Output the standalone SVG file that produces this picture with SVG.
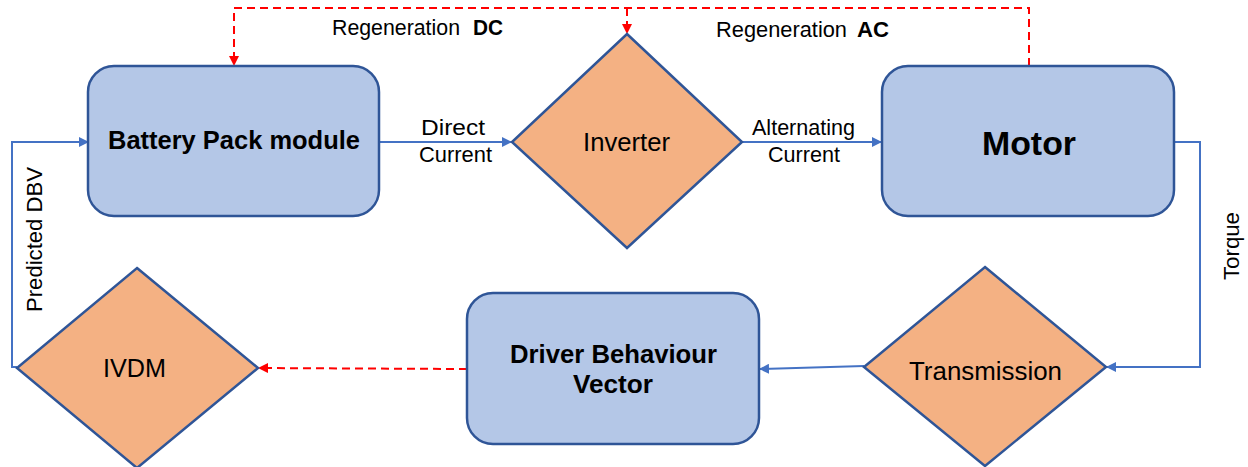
<svg xmlns="http://www.w3.org/2000/svg" width="1248" height="467" viewBox="0 0 1248 467">
  <style>
    .box { fill: #B4C7E7; stroke: #2F5597; stroke-width: 2.5; }
    .dia { fill: #F4B183; stroke: #2F5597; stroke-width: 2.5; }
    .flow { fill: none; stroke: #4472C4; stroke-width: 2; }
    .regen { fill: none; stroke: #FF0000; stroke-width: 2; stroke-dasharray: 8 5; }
    text { font-family: "Liberation Sans", Arial, sans-serif; fill: #000; }
    .lbl { font-size: 22px; }
    .node { font-size: 25px; }
    .bold { font-weight: bold; }
    .mid { text-anchor: middle; }
  </style>
  <defs>
    <marker id="arrowBlue" viewBox="0 0 10 10" refX="9" refY="5" markerWidth="5" markerHeight="5" orient="auto" markerUnits="strokeWidth">
      <path d="M0,0 L10,5 L0,10 z" fill="#4472C4"/>
    </marker>
    <marker id="arrowRed" viewBox="0 0 10 10" refX="9" refY="5" markerWidth="5" markerHeight="5" orient="auto" markerUnits="strokeWidth">
      <path d="M0,0 L10,5 L0,10 z" fill="#FF0000"/>
    </marker>
  </defs>

  <!-- connectors and their labels -->
  <g id="connectors">
    <line class="flow" x1="379" y1="142" x2="511" y2="142" marker-end="url(#arrowBlue)"/>
    <line class="flow" x1="742" y1="142" x2="881" y2="142" marker-end="url(#arrowBlue)"/>
    <polyline class="flow" points="1175,142 1200,142 1200,367 1107,367" marker-end="url(#arrowBlue)"/>
    <line class="flow" x1="864" y1="366" x2="760" y2="369" marker-end="url(#arrowBlue)"/>
    <polyline class="flow" points="17,367 12,367 12,142 88,142" marker-end="url(#arrowBlue)"/>
    <line class="regen" x1="467" y1="369" x2="259" y2="368" marker-end="url(#arrowRed)"/>
    <polyline class="regen" points="1029,66 1029,8 234,8 234,65" marker-end="url(#arrowRed)"/>
    <line class="regen" x1="627" y1="8" x2="627" y2="33" marker-end="url(#arrowRed)"/>

    <text class="lbl" x="332" y="35" textLength="128" lengthAdjust="spacingAndGlyphs">Regeneration</text>
    <text class="lbl bold" x="473" y="35" textLength="30" lengthAdjust="spacingAndGlyphs">DC</text>
    <text class="lbl" x="716" y="37" textLength="131" lengthAdjust="spacingAndGlyphs">Regeneration</text>
    <text class="lbl bold" x="857" y="37" textLength="32" lengthAdjust="spacingAndGlyphs">AC</text>
    <text class="lbl" x="421" y="135" textLength="64" lengthAdjust="spacingAndGlyphs">Direct</text>
    <text class="lbl" x="419" y="162" textLength="73" lengthAdjust="spacingAndGlyphs">Current</text>
    <text class="lbl" x="752" y="135" textLength="103" lengthAdjust="spacingAndGlyphs">Alternating</text>
    <text class="lbl" x="768" y="162" textLength="72" lengthAdjust="spacingAndGlyphs">Current</text>
    <text class="lbl" transform="translate(42,312) rotate(-90)" textLength="145" lengthAdjust="spacingAndGlyphs">Predicted DBV</text>
    <text class="lbl" transform="translate(1239,280) rotate(-90)" textLength="68" lengthAdjust="spacingAndGlyphs">Torque</text>
  </g>

  <g id="battery">
    <rect class="box" x="88" y="66" width="291" height="150" rx="26"/>
    <text class="node bold" x="108" y="149" textLength="252" lengthAdjust="spacingAndGlyphs">Battery Pack module</text>
  </g>

  <g id="inverter">
    <polygon class="dia" points="627,34 742,142 627,248 512,142"/>
    <text class="node" x="583" y="151" textLength="87" lengthAdjust="spacingAndGlyphs">Inverter</text>
  </g>

  <g id="motor">
    <rect class="box" x="882" y="66" width="292" height="150" rx="26"/>
    <text class="bold" x="982" y="155" font-size="33" textLength="94" lengthAdjust="spacingAndGlyphs">Motor</text>
  </g>

  <g id="transmission">
    <polygon class="dia" points="985,267 1106,367 985,466 864,367"/>
    <text class="node" x="909" y="380" textLength="153" lengthAdjust="spacingAndGlyphs">Transmission</text>
  </g>

  <g id="driver-behaviour-vector">
    <rect class="box" x="467" y="293" width="292" height="151" rx="26"/>
    <text class="node bold" x="510" y="363" textLength="207" lengthAdjust="spacingAndGlyphs">Driver Behaviour</text>
    <text class="node bold" x="573" y="393" textLength="80" lengthAdjust="spacingAndGlyphs">Vector</text>
  </g>

  <g id="ivdm">
    <polygon class="dia" points="137,268 258,368 137,468 17,368"/>
    <text class="node" x="103" y="377" textLength="63" lengthAdjust="spacingAndGlyphs">IVDM</text>
  </g>
</svg>
